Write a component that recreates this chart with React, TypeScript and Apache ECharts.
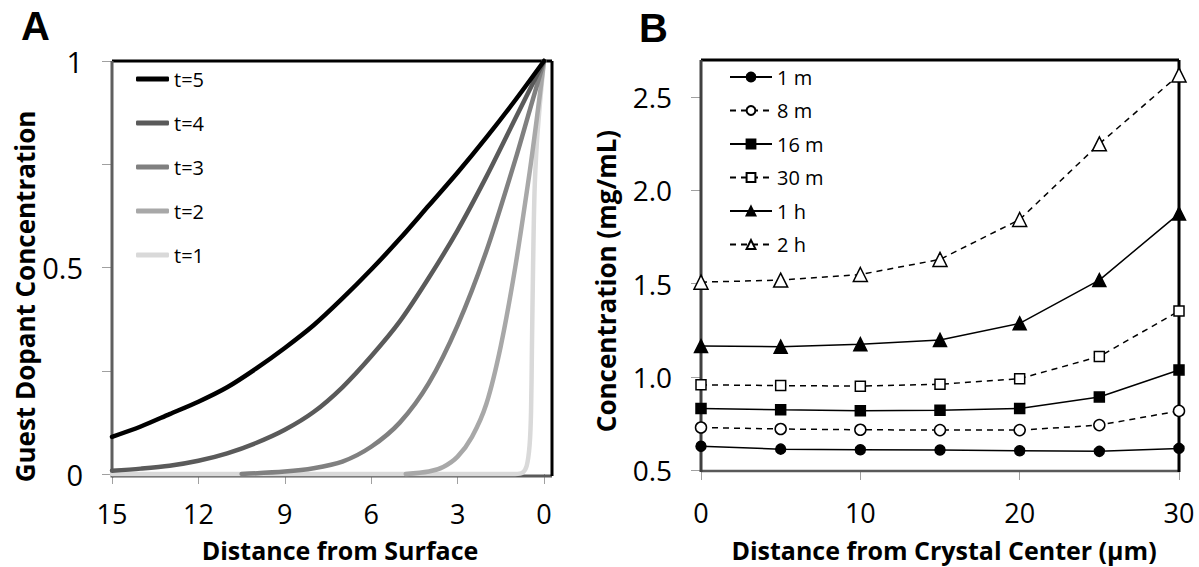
import React, { useEffect, useRef } from "react";
import * as echarts from "echarts";

// ---------- Panel A data (distance from surface -> concentration) ----------
const distT5 = [15, 14, 13, 12, 11, 10, 9, 8, 7, 6, 5, 4, 3, 2, 1, 0];
const concT5 = [0.09, 0.115, 0.145, 0.175, 0.21, 0.255, 0.305, 0.36, 0.425, 0.495, 0.57, 0.65, 0.73, 0.815, 0.905, 1];
const distT4 = [15, 14, 13, 12, 11, 10, 9, 8, 7, 6, 5, 4, 3, 2, 1, 0];
const concT4 = [0.008, 0.013, 0.02, 0.032, 0.05, 0.075, 0.107, 0.15, 0.21, 0.285, 0.37, 0.475, 0.59, 0.72, 0.86, 1];
const distT3 = [10.5, 9, 8, 7, 6, 5, 4, 3, 2, 1, 0.5, 0];
const concT3 = [0, 0.006, 0.014, 0.03, 0.066, 0.125, 0.22, 0.36, 0.54, 0.76, 0.88, 1];
const distT2 = [4.8, 4, 3.5, 3, 2.5, 2, 1.5, 1, 0.5, 0.25, 0];
const concT2 = [0, 0.006, 0.017, 0.042, 0.09, 0.17, 0.31, 0.5, 0.73, 0.86, 1];
const distT1 = [15, 10, 5, 2, 1, 0.75, 0.6, 0.5, 0.45, 0.42, 0.38, 0.33, 0.25, 0.15, 0.07, 0];
const concT1 = [0, 0, 0, 0, 0, 0.003, 0.02, 0.07, 0.15, 0.3, 0.5, 0.68, 0.8, 0.89, 0.95, 1];

const namesA = ["t=5", "t=4", "t=3", "t=2", "t=1"];
const colorsA = ["#000000", "#5a5a5a", "#808080", "#a8a8a8", "#d9d9d9"];
const xTicksA = [15, 12, 9, 6, 3, 0];
const yTicksA = [0, 0.5, 1];
const yTickMarksA = [0, 0.25, 0.5, 0.75, 1];

// ---------- Panel B data (distance from crystal center, µm) ----------
const distB = [0, 5, 10, 15, 20, 25, 30];
const conc1m = [0.627, 0.612, 0.609, 0.607, 0.603, 0.6, 0.616];
const conc8m = [0.728, 0.72, 0.716, 0.714, 0.714, 0.741, 0.817];
const conc16m = [0.83, 0.823, 0.818, 0.821, 0.83, 0.892, 1.037];
const conc30m = [0.957, 0.953, 0.95, 0.96, 0.99, 1.109, 1.353];
const conc1h = [1.165, 1.162, 1.175, 1.198, 1.287, 1.519, 1.876];
const conc2h = [1.508, 1.519, 1.549, 1.63, 1.844, 2.25, 2.62];
const namesB = ["1 m", "8 m", "16 m", "30 m", "1 h", "2 h"];
const yTicksB = [0.5, 1.0, 1.5, 2.0, 2.5];
const xTicksB = [0, 10, 20, 30];

const FONT = "'Open Sans', 'Noto Sans', sans-serif";

function pairs(xs: number[], ys: number[]) {
  return xs.map((x, i) => [x, ys[i]]);
}

export default function App() {
  const ref = useRef<HTMLDivElement>(null);

  useEffect(() => {
    document.body.style.margin = "0";
    if (!ref.current) return;
    const chart = echarts.init(ref.current, undefined, { renderer: "svg" });

    const seriesA = [
      { name: "t=1", xs: distT1, ys: concT1, c: colorsA[4] },
      { name: "t=2", xs: distT2, ys: concT2, c: colorsA[3] },
      { name: "t=3", xs: distT3, ys: concT3, c: colorsA[2] },
      { name: "t=4", xs: distT4, ys: concT4, c: colorsA[1] },
      { name: "t=5", xs: distT5, ys: concT5, c: colorsA[0] },
    ].map((s) => ({
      type: "line",
      name: s.name,
      xAxisIndex: 0,
      yAxisIndex: 0,
      data: pairs(s.xs, s.ys),
      showSymbol: false,
      symbol: "none",
      smooth: 0.3,
      clip: false,
      color: s.c,
      lineStyle: { color: s.c, width: 4.5, cap: "round", join: "round" },
    }));

    const bDefs = [
      { name: "1 m", ys: conc1m, sym: "circle", size: 10, fill: "#000", dash: false },
      { name: "8 m", ys: conc8m, sym: "circle", size: 11, fill: "#fff", dash: true },
      { name: "16 m", ys: conc16m, sym: "rect", size: 10, fill: "#000", dash: false },
      { name: "30 m", ys: conc30m, sym: "rect", size: 10, fill: "#fff", dash: true },
      { name: "1 h", ys: conc1h, sym: "triangle", size: 13, fill: "#000", dash: false },
      { name: "2 h", ys: conc2h, sym: "triangle", size: 14, fill: "#fff", dash: true },
    ];
    const seriesB = bDefs.map((s) => ({
      type: "line",
      name: s.name,
      xAxisIndex: 1,
      yAxisIndex: 1,
      data: pairs(distB, s.ys),
      symbol: s.sym,
      symbolSize: s.size,
      showSymbol: true,
      clip: false,
      color: "#000",
      itemStyle: { color: s.fill, borderColor: "#000", borderWidth: 1.5 },
      lineStyle: { color: "#000", width: 1.5, type: s.dash ? [6, 5] : "solid" },
      z: 3,
    }));

    const tickStyle = { show: true, length: 10, lineStyle: { color: "#a0a0a0", width: 1 } };
    const labelX = { fontSize: 27, lineHeight: 27, color: "#000", fontFamily: FONT };
    const labelBY = { fontSize: 28, lineHeight: 28, color: "#000", fontFamily: FONT };
    const nameStyle = { fontSize: 25, lineHeight: 25, fontWeight: "bold", color: "#000", fontFamily: FONT };
    const nameStyleY = { fontSize: 26, lineHeight: 26, fontWeight: "bold", color: "#000", fontFamily: FONT };

    const frame = (x1: number, y1: number, x2: number, y2: number, c: string, w: number) => ({
      type: "line",
      z: 1,
      shape: { x1, y1, x2, y2 },
      style: { stroke: c, lineWidth: w },
    });

    chart.setOption({
      animation: false,
      backgroundColor: "#ffffff",
      grid: [
        { left: 112, right: 655, top: 61, bottom: 91 },
        { left: 701, right: 20, top: 60, bottom: 96 },
      ],
      xAxis: [
        {
          type: "value",
          gridIndex: 0,
          position: "bottom",
          min: 0,
          max: 15,
          interval: 3,
          inverse: true,
          axisLine: { show: false, onZero: false },
          axisTick: { ...tickStyle, customValues: xTicksA },
          axisLabel: { ...labelX, margin: 26, customValues: xTicksA },
          splitLine: { show: false },
          name: "Distance from Surface",
          nameLocation: "middle",
          nameGap: 63,
          nameTextStyle: { ...nameStyle, padding: [0, 0, 0, 24] },
        },
        {
          type: "value",
          gridIndex: 1,
          position: "bottom",
          min: 0,
          max: 30,
          interval: 10,
          axisLine: { show: false, onZero: false },
          axisTick: { ...tickStyle, customValues: xTicksB },
          axisLabel: { ...labelX, margin: 29, customValues: xTicksB },
          splitLine: { show: false },
          name: "Distance from Crystal Center (µm)",
          nameLocation: "middle",
          nameGap: 67,
          nameTextStyle: { ...nameStyle, padding: [0, 0, 0, 8] },
        },
      ],
      yAxis: [
        {
          type: "value",
          gridIndex: 0,
          position: "left",
          min: 0,
          max: 1,
          interval: 0.25,
          axisLine: { show: false, onZero: false },
          axisTick: { ...tickStyle, customValues: yTickMarksA },
          axisLabel: {
            margin: 29,
            align: "right",
            customValues: yTicksA,
            formatter: (v: number) => "{r|" + String(v) + "}",
            rich: {
              r: { fontSize: 29, lineHeight: 29, color: "#000", fontFamily: FONT, width: 46, align: "right" },
            },
          },
          splitLine: { show: false },
          name: "Guest Dopant Concentration",
          nameLocation: "middle",
          nameGap: 74,
          nameMoveOverlap: false,
          nameTextStyle: { ...nameStyleY, padding: [0, 58, 0, 0] },
        },
        {
          type: "value",
          gridIndex: 1,
          position: "left",
          min: 0.5,
          max: 2.7,
          interval: 0.5,
          axisLine: { show: false, onZero: false },
          axisTick: { ...tickStyle, customValues: yTicksB },
          axisLabel: {
            ...labelBY,
            margin: 29,
            align: "right",
            customValues: yTicksB,
            formatter: (v: number) => v.toFixed(1),
          },
          splitLine: { show: false },
          name: "Concentration (mg/mL)",
          nameLocation: "middle",
          nameGap: 82,
          nameMoveOverlap: false,
          nameTextStyle: { ...nameStyleY, padding: [0, 32, 0, 0] },
        },
      ],
      legend: [
        {
          data: namesA,
          orient: "vertical",
          left: 131,
          top: 64,
          icon: "roundRect",
          itemWidth: 33,
          itemHeight: 5,
          itemGap: 24,
          textStyle: { fontSize: 20, color: "#000", fontFamily: FONT },
          selectedMode: false,
        },
        {
          data: namesB,
          orient: "vertical",
          left: 724,
          top: 62,
          itemWidth: 42,
          itemHeight: 11,
          itemGap: 13.5,
          textStyle: { fontSize: 20, color: "#000", fontFamily: FONT },
          selectedMode: false,
        },
      ],
      graphic: [
        frame(112, 476, 552, 476, "#5a5a5a", 3),
        frame(112, 61, 552, 61, "#000", 3),
        frame(552, 61, 552, 476, "#000", 3),
        frame(112, 61, 112, 477.5, "#5f5f5f", 3),
        frame(701, 471, 1179, 471, "#595959", 2.5),
        frame(701, 60, 1179, 60, "#000", 3),
        frame(1179, 60, 1179, 472, "#000", 3),
        frame(701, 60, 701, 472, "#404040", 3),
        {
          type: "text",
          left: 21,
          top: 6,
          style: { text: "A", fontSize: 40, fontWeight: "bold", fill: "#000", fontFamily: "'Liberation Sans', Arial, sans-serif" },
        },
        {
          type: "text",
          left: 639,
          top: 8,
          style: { text: "B", fontSize: 40, fontWeight: "bold", fill: "#000", fontFamily: "'Liberation Sans', Arial, sans-serif" },
        },
      ],
      series: [...seriesA, ...seriesB],
    });

    return () => chart.dispose();
  }, []);

  return <div ref={ref} style={{ width: 1199, height: 567 }} />;
}
